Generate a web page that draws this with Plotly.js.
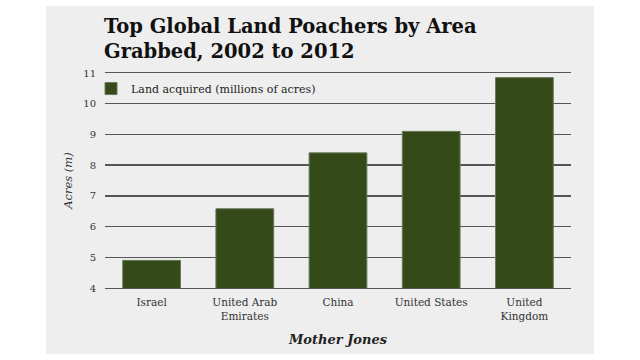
<!DOCTYPE html>
<html>
<head>
<meta charset="utf-8">
<script src="https://cdn.plot.ly/plotly-3.0.1.min.js"></script>
<style>
  html, body { margin: 0; padding: 0; background: #ffffff; width: 640px; height: 360px; overflow: hidden; }
  #chart { position: absolute; left: 46px; top: 6px; width: 548px; height: 348px; }
</style>
</head>
<body>
<div id="chart"></div>
<script>
const categories = ["Israel", "United Arab<br>Emirates", "China", "United States", "United<br>Kingdom"];
const landAcquired = [4.9, 6.58, 8.4, 9.1, 10.85];
const seriesName = "Land acquired (millions of acres)";
const titleText = "Top Global Land Poachers by Area<br>Grabbed, 2002 to 2012";
const yTickValues = [4, 5, 6, 7, 8, 9, 10, 11];

const serifFont = "'DejaVu Serif', serif";

const trace = {
  type: "bar",
  x: categories,
  y: landAcquired,
  name: seriesName,
  marker: { color: "#344a19", line: { color: "#6b7a5c", width: 1 } },
  showlegend: true,
  hoverinfo: "skip"
};

const layout = {
  width: 548,
  height: 348,
  paper_bgcolor: "#eeeeee",
  plot_bgcolor: "#eeeeee",
  margin: { l: 59, r: 23, t: 67, b: 66 },
  bargap: 0.38,
  font: { family: serifFont, color: "#333333", size: 10 },
  annotations: [{
    text: "<b>" + titleText + "</b>",
    xref: "paper", yref: "paper",
    x: -0.006, xanchor: "left",
    y: 1.036, yanchor: "bottom",
    align: "left",
    showarrow: false,
    font: { family: serifFont, size: 19.5, color: "#111111" }
  }],
  xaxis: {
    showgrid: false,
    showline: true,
    mirror: true,
    linecolor: "#555555",
    linewidth: 1.3,
    ticks: "",
    ticklabelstandoff: 4,
    tickfont: { family: serifFont, size: 10.5, color: "#333333" },
    title: {
      text: "<b><i>Mother Jones</i></b>",
      font: { family: serifFont, size: 13, color: "#222222" },
      standoff: 14
    }
  },
  yaxis: {
    range: [4, 11],
    tickvals: yTickValues,
    showgrid: true,
    gridcolor: "#555555",
    gridwidth: 1.3,
    zeroline: false,
    showline: false,
    ticks: "",
    ticklabelstandoff: 8,
    tickfont: { family: serifFont, size: 10, color: "#333333" },
    title: {
      text: "<i>Acres (m)</i>",
      font: { family: serifFont, size: 11.5, color: "#333333" },
      standoff: 8
    }
  },
  legend: {
    x: -0.03, xanchor: "left",
    y: 0.995, yanchor: "top",
    bgcolor: "rgba(0,0,0,0)",
    font: { family: serifFont, size: 11, color: "#222222" },
    itemwidth: 30
  }
};

Plotly.newPlot("chart", [trace], layout, { displayModeBar: false, staticPlot: true });
</script>
</body>
</html>
